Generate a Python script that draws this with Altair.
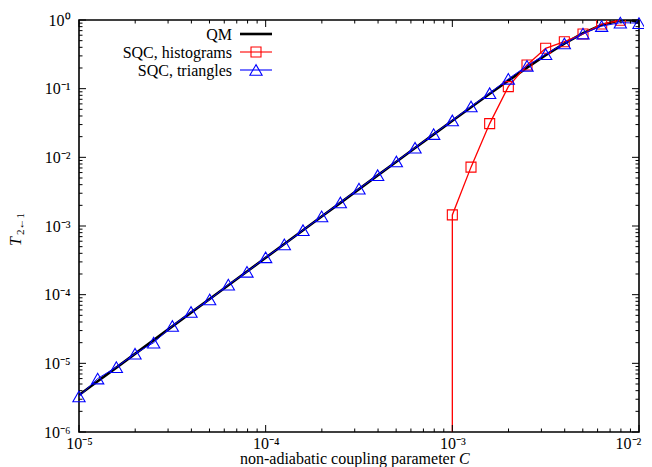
import altair as alt
import pandas as pd

# ---------------- data ----------------
C_grid = [1.0e-5, 1.259e-5, 1.585e-5, 1.995e-5, 2.512e-5, 3.162e-5, 3.981e-5, 5.012e-5, 6.310e-5, 7.943e-5,
          1.0e-4, 1.259e-4, 1.585e-4, 1.995e-4, 2.512e-4, 3.162e-4, 3.981e-4, 5.012e-4, 6.310e-4, 7.943e-4,
          1.0e-3, 1.259e-3, 1.585e-3, 1.995e-3, 2.512e-3, 3.162e-3, 3.981e-3, 5.012e-3, 6.310e-3, 7.943e-3,
          1.0e-2]

qm_C = C_grid[:30] + [8.5e-3, 9.2e-3, 1.0e-2]
qm_T = [3.45e-6, 5.47e-6, 8.66e-6, 1.373e-5, 2.176e-5, 3.45e-5, 5.47e-5, 8.66e-5, 1.373e-4, 2.176e-4,
        3.45e-4, 5.47e-4, 8.66e-4, 1.372e-3, 2.174e-3, 3.445e-3, 5.456e-3, 8.64e-3, 1.367e-2, 2.161e-2,
        3.409e-2, 5.368e-2, 8.416e-2, 0.1311, 0.2023, 0.307, 0.4541, 0.6432, 0.8492, 0.9911,
        1.0, 0.981, 0.92]

tri_T = [3.3e-6, 6.0e-6, 8.8e-6, 1.38e-5, 2.0e-5, 3.5e-5, 5.6e-5, 8.5e-5, 1.40e-4, 2.15e-4,
         3.5e-4, 5.4e-4, 8.7e-4, 1.38e-3, 2.2e-3, 3.5e-3, 5.5e-3, 8.7e-3, 1.38e-2, 2.18e-2,
         3.45e-2, 5.5e-2, 8.6e-2, 0.139, 0.215, 0.318, 0.455, 0.635, 0.815, 0.915,
         0.90]

# histogram series: the first point is effectively zero (off the log scale), giving the vertical drop
hist_C = [1.0e-3, 1.0e-3, 1.259e-3, 1.585e-3, 1.995e-3, 2.512e-3, 3.162e-3, 3.981e-3, 5.012e-3, 6.310e-3, 7.943e-3]
hist_T = [1.0e-12, 1.45e-3, 7.2e-3, 0.031, 0.107, 0.221, 0.387, 0.483, 0.625, 0.873, 0.99]

x_major = [1e-5, 1e-4, 1e-3, 1e-2]
y_major = [1e-6, 1e-5, 1e-4, 1e-3, 1e-2, 1e-1, 1e0]
x_minor = [m * 10.0 ** e for e in (-5, -4, -3) for m in range(2, 10)]
y_minor = [m * 10.0 ** e for e in (-6, -5, -4, -3, -2, -1) for m in range(2, 10)]

legend_labels = ["QM", "SQC, histograms", "SQC, triangles"]

# ---------------- styling ----------------
W, H = 560, 412
FONT = "Liberation Serif"
RED = "#ff0000"
BLUE = "#0000ff"

xs = alt.Scale(type="log", domain=[1e-5, 1e-2], nice=False)
ys = alt.Scale(type="log", domain=[1e-6, 1.0], nice=False)

sup = "['\u2070','\u207b\u00b9','\u207b\u00b2','\u207b\u00b3','\u207b\u2074','\u207b\u2075','\u207b\u2076']"
label_expr = "'10' + " + sup + "[round(-log(datum.value)/LN10)]"

x_axis = alt.Axis(values=x_major, labelExpr=label_expr, ticks=False, tickSize=0, grid=False,
                  domain=False, labelFont=FONT, labelFontSize=16, labelColor="black",
                  labelPadding=3, title=None, labelFlush=False,
                  labelOffset={"condition": {"test": "datum.value > 0.005", "value": -11}, "value": 0})
y_axis = alt.Axis(values=y_major, labelExpr=label_expr, ticks=False, tickSize=0, grid=False,
                  domain=False, labelFont=FONT, labelFontSize=16, labelColor="black",
                  labelPadding=9, title=None, labelFlush=False)


def X(field):
    return alt.X(field, scale=xs, title=None)


def Y(field):
    return alt.Y(field, scale=ys, title=None)


qm_df = pd.DataFrame({"C": qm_C, "T": qm_T})
tri_df = pd.DataFrame({"C": C_grid, "T": tri_T})
hist_df = pd.DataFrame({"C": hist_C, "T": hist_T})

qm = alt.Chart(qm_df).mark_line(color="black", strokeWidth=2.6, clip=True).encode(
    x=alt.X("C:Q", scale=xs, axis=x_axis),
    y=alt.Y("T:Q", scale=ys, axis=y_axis),
    order="C:Q",
)

hist_line = alt.Chart(hist_df).mark_line(color=RED, strokeWidth=1.3, clip=True).encode(
    x=X("C:Q"), y=Y("T:Q"), order=alt.Order("T:Q"),
)
hist_pts = alt.Chart(hist_df).mark_point(shape="square", size=100, color=RED, strokeWidth=1.1,
                                         filled=False, opacity=1, clip=True).encode(
    x=X("C:Q"), y=Y("T:Q"),
)

tri_line = alt.Chart(tri_df).mark_line(color=BLUE, strokeWidth=1, clip=True).encode(
    x=X("C:Q"), y=Y("T:Q"), order="C:Q",
)
tri_pts = alt.Chart(tri_df).mark_point(shape="triangle-up", size=150, color=BLUE, strokeWidth=1.1,
                                       filled=False, opacity=1).encode(
    x=X("C:Q"), y=Y("T:Q"),
)


# inward ticks on all four sides
def tick_layers(vals, axis, length):
    df = pd.DataFrame({"v": vals})
    base = alt.Chart(df).mark_rule(color="black", strokeWidth=1)
    if axis == "x":
        return [base.encode(x=X("v:Q"), y=alt.value(H), y2=alt.value(H - length)),
                base.encode(x=X("v:Q"), y=alt.value(0), y2=alt.value(length))]
    return [base.encode(y=Y("v:Q"), x=alt.value(0), x2=alt.value(length)),
            base.encode(y=Y("v:Q"), x=alt.value(W), x2=alt.value(W - length))]


ticks = (tick_layers(x_major, "x", 7) + tick_layers(x_minor, "x", 3.5) +
         tick_layers(y_major, "y", 7) + tick_layers(y_minor, "y", 3.5))

# legend (labels left, sample on the right)
leg = []
leg_y = [14, 32, 50]
for i, lab in enumerate(legend_labels):
    d = pd.DataFrame({"label": [lab]})
    leg.append(alt.Chart(d).mark_text(font=FONT, fontSize=16, align="right", baseline="middle",
                                      color="black").encode(
        text="label:N", x=alt.value(153), y=alt.value(leg_y[i] + 1)))
leg.append(alt.Chart(pd.DataFrame({"label": [legend_labels[0]]})).mark_rule(
    color="black", strokeWidth=2.6).encode(x=alt.value(161), x2=alt.value(193), y=alt.value(leg_y[0])))
leg.append(alt.Chart(pd.DataFrame({"label": [legend_labels[1]]})).mark_rule(
    color=RED, strokeWidth=1.1).encode(x=alt.value(161), x2=alt.value(193), y=alt.value(leg_y[1])))
leg.append(alt.Chart(pd.DataFrame({"label": [legend_labels[1]]})).mark_point(
    shape="square", size=100, color=RED, strokeWidth=1.1, filled=False, opacity=1).encode(
    x=alt.value(177), y=alt.value(leg_y[1])))
leg.append(alt.Chart(pd.DataFrame({"label": [legend_labels[2]]})).mark_rule(
    color=BLUE, strokeWidth=1.1).encode(x=alt.value(161), x2=alt.value(193), y=alt.value(leg_y[2])))
leg.append(alt.Chart(pd.DataFrame({"label": [legend_labels[2]]})).mark_point(
    shape="triangle-up", size=150, color=BLUE, strokeWidth=1.1, filled=False, opacity=1).encode(
    x=alt.value(177), y=alt.value(leg_y[2])))

# axis titles
TY = 444
titles = []
t = pd.DataFrame({"s": ["non-adiabatic coupling parameter"]})
titles.append(alt.Chart(t).mark_text(font=FONT, fontSize=16, align="right", baseline="alphabetic",
                                     color="black").encode(text="s:N", x=alt.value(376), y=alt.value(TY)))
t = pd.DataFrame({"s": ["C"]})
titles.append(alt.Chart(t).mark_text(font=FONT, fontSize=16, fontStyle="italic", align="left",
                                     baseline="alphabetic", color="black").encode(
    text="s:N", x=alt.value(380), y=alt.value(TY)))
t = pd.DataFrame({"s": ["T"]})
titles.append(alt.Chart(t).mark_text(font=FONT, fontSize=16, fontStyle="italic", align="left",
                                     baseline="middle", angle=270, color="black").encode(
    text="s:N", x=alt.value(-63), y=alt.value(226)))
t = pd.DataFrame({"s": ["2\u21901"]})
titles.append(alt.Chart(t).mark_text(font=FONT, fontSize=11, align="left",
                                     baseline="middle", angle=270, color="black").encode(
    text="s:N", x=alt.value(-58), y=alt.value(215)))

chart = alt.layer(qm, hist_line, hist_pts, tri_line, tri_pts, *ticks, *leg, *titles).properties(
    width=W, height=H,
    padding={"left": 71, "top": 12, "right": 5, "bottom": 35},
    autosize=alt.AutoSizeParams(type="none"),
    background="white",
).configure_view(stroke="black", strokeWidth=1.6)

chart.save("out.html", embed_options={"renderer": "svg", "actions": False})
